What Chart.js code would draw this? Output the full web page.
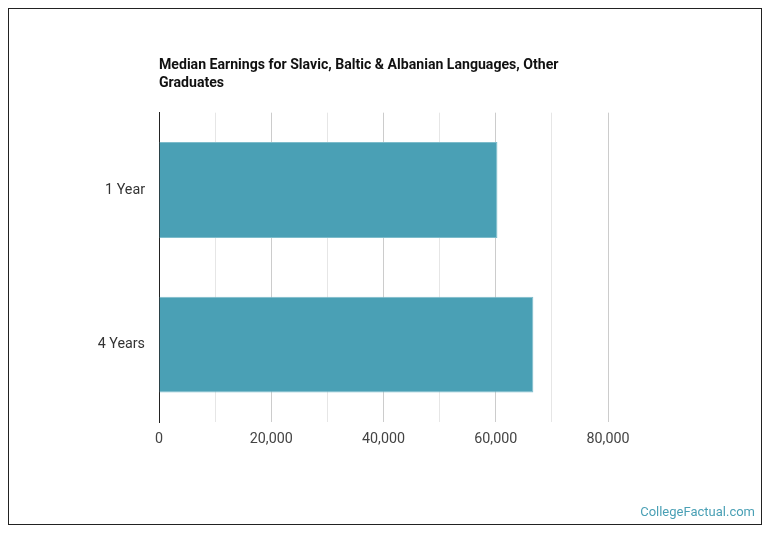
<!DOCTYPE html>
<html>
<head>
<meta charset="utf-8">
<script src="https://cdn.jsdelivr.net/npm/chart.js@4/dist/chart.umd.min.js"></script>
<style>
  html, body { margin: 0; padding: 0; background: #fff; }
  #wrap { width: 770px; height: 536px; position: relative; }
</style>
</head>
<body>
<div id="wrap"><canvas id="earningsChart" width="770" height="536"></canvas></div>
<script>
// Datos del gráfico
const categories = ['1 Year', '4 Years'];
const earnings = [60300, 66700];
const axisMin = 0;
const axisMax = 80000;
const axisStep = 10000;
const labelStep = 20000;

// Marco y marca de agua
const framePlugin = {
    id: 'frame',
    afterDraw(chart) {
        const ctx = chart.ctx;
        ctx.save();
        ctx.strokeStyle = '#222';
        ctx.lineWidth = 1;
        ctx.strokeRect(8.5, 8.5, 753, 516);
        ctx.fillStyle = '#4aa0b5';
        ctx.font = '13px Roboto';
        ctx.textAlign = 'right';
        ctx.textBaseline = 'middle';
        ctx.fillText('CollegeFactual.com', 755, 513);
        ctx.restore();
    }
};

const ctx = document.getElementById('earningsChart').getContext('2d');
new Chart(ctx, {
    type: 'bar',
    data: {
        labels: categories,
        datasets: [{
            data: earnings,
            backgroundColor: '#4aa0b5',
            borderColor: '#7dbccb',
            borderWidth: 1,
            borderSkipped: 'left',
            categoryPercentage: 0.62,
            barPercentage: 1
        }]
    },
    options: {
        indexAxis: 'y',
        responsive: false,
        animation: false,
        layout: { padding: { left: 0, right: 162, top: 0, bottom: 0 } },
        plugins: {
            legend: { display: false },
            tooltip: { enabled: false },
            title: {
                display: true,
                text: ['Median Earnings for Slavic, Baltic & Albanian Languages, Other', 'Graduates'],
                align: 'start',
                fullSize: false,
                color: '#111',
                font: { family: 'Roboto', size: 14.1, weight: 'bold', lineHeight: 1.3 },
                padding: { top: 56, bottom: 20 }
            }
        },
        scales: {
            x: {
                min: axisMin,
                max: axisMax,
                afterFit(scale) { scale.height = 114; },
                ticks: {
                    stepSize: axisStep,
                    autoSkip: false,
                    maxRotation: 0,
                    padding: 9,
                    color: '#444',
                    font: { family: 'Roboto', size: 14.3 },
                    callback: v => (v % labelStep === 0 ? v.toLocaleString('en-US') : '')
                },
                grid: {
                    drawTicks: false,
                    color: c => (c.tick && c.tick.value % labelStep === 0 ? '#cccccc' : '#e6e6e6')
                },
                border: { display: false }
            },
            y: {
                afterFit(scale) { scale.width = 159; },
                ticks: {
                    padding: 14,
                    color: '#333',
                    font: { family: 'Roboto', size: 14.3 }
                },
                grid: { display: false, drawTicks: false },
                border: { display: true, color: '#222', width: 1 }
            }
        }
    },
    plugins: [framePlugin]
});
</script>
</body>
</html>
